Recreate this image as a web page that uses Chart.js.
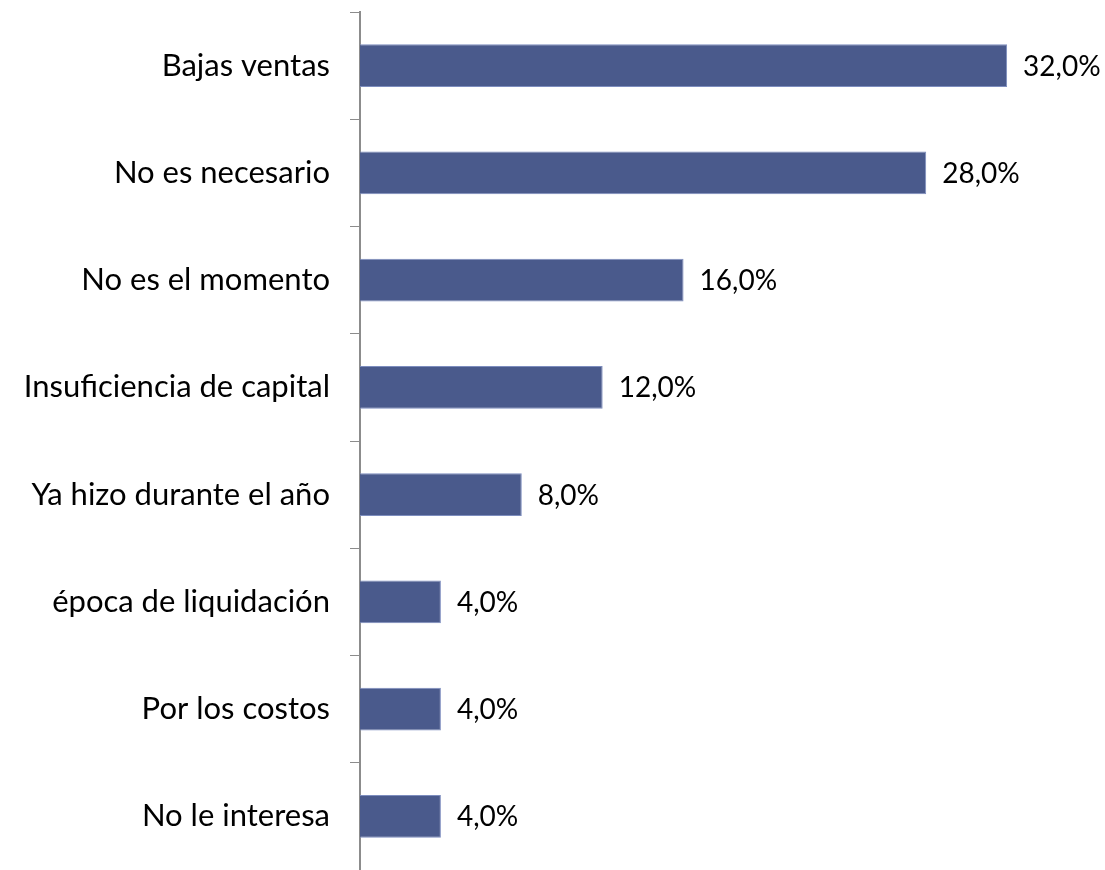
<!DOCTYPE html>
<html>
<head>
<meta charset="utf-8">
<script src="https://cdn.jsdelivr.net/npm/chart.js@4"></script>
<style>
  body { margin: 0; background: #fff; }
  #wrap { width: 1105px; height: 870px; position: relative; }
</style>
</head>
<body>
<div id="wrap"><canvas id="c"></canvas></div>
<script>
const categories = [
  "Bajas ventas",
  "No es necesario",
  "No es el momento",
  "Insuficiencia de capital",
  "Ya hizo durante el año",
  "época de liquidación",
  "Por los costos",
  "No le interesa"
];
const values = [32, 28, 16, 12, 8, 4, 4, 4];

const FONT = "Lato, 'Open Sans', sans-serif";

const valueLabels = {
  id: "valueLabels",
  afterDatasetsDraw(chart) {
    const ctx = chart.ctx;
    const meta = chart.getDatasetMeta(0);
    ctx.save();
    ctx.font = "28px " + FONT;
    ctx.fillStyle = "#000";
    ctx.textAlign = "left";
    ctx.textBaseline = "middle";
    meta.data.forEach((bar, i) => {
      const txt = values[i].toFixed(1).replace(".", ",") + "%";
      ctx.fillText(txt, bar.x + 16, bar.y + 1);
    });
    ctx.restore();
  }
};

new Chart(document.getElementById("c").getContext("2d"), {
  type: "bar",
  data: {
    labels: categories,
    datasets: [{
      data: values,
      backgroundColor: "#4A5A8C",
      borderColor: "#7D8DBE",
      borderWidth: 1,
      categoryPercentage: 1,
      barPercentage: 0.4
    }]
  },
  options: {
    indexAxis: "y",
    responsive: true,
    maintainAspectRatio: false,
    animation: false,
    layout: { padding: { top: 12, right: 17, bottom: 0, left: 0 } },
    plugins: {
      legend: { display: false },
      tooltip: { enabled: false }
    },
    scales: {
      x: {
        display: false,
        min: 0,
        max: 36
      },
      y: {
        afterFit(scale) {
          scale.width = 360;
          scale.paddingTop = 0;
          scale.paddingBottom = 0;
        },
        grid: {
          drawOnChartArea: false,
          drawTicks: true,
          tickLength: 10,
          color: "#8c8c8c",
          lineWidth: 1
        },
        border: { display: true, color: "#8c8c8c", width: 2 },
        ticks: {
          color: "#000",
          padding: 20,
          font: { family: FONT, size: 31 }
        }
      }
    }
  },
  plugins: [valueLabels]
});
</script>
</body>
</html>
